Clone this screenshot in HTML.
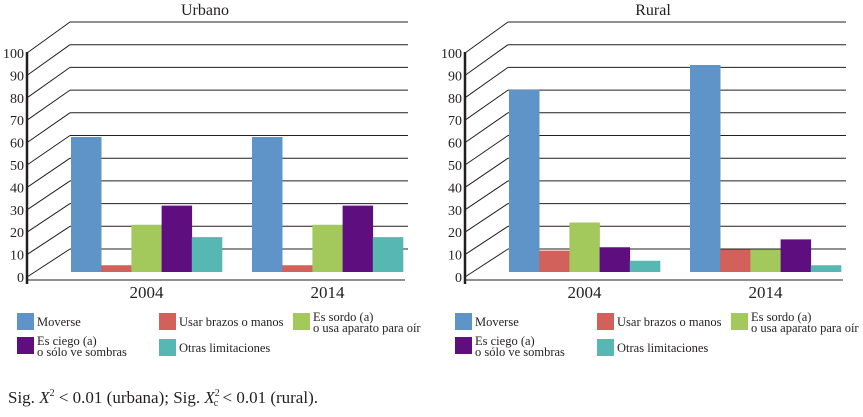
<!DOCTYPE html>
<html><head><meta charset="utf-8"><style>
body{margin:0;background:#fff;width:863px;height:412px;overflow:hidden;font-family:"Liberation Serif",serif;}
svg, svg text{font-family:"Liberation Serif","DejaVu Serif",serif;fill:#231f20;}
</style></head><body>
<svg id="chart" width="863" height="412" font-family="Liberation Serif, serif" xmlns="http://www.w3.org/2000/svg"></svg>
<script>
const categories = ["2004", "2014"];
const seriesNames = ["Moverse", "Usar brazos o manos", "Es sordo (a) o usa aparato para oír", "Es ciego (a) o sólo ve sombras", "Otras limitaciones"];
const urbanValues = [[60, 3, 21, 29.5, 15.5], [60, 3, 21, 29.5, 15.5]];
const ruralValues = [[81, 9.5, 22, 11, 5], [92, 10, 10, 14.5, 3]];
const yTicks = [0, 10, 20, 30, 40, 50, 60, 70, 80, 90, 100];
const colors = ["#5e94c8", "#d2605b", "#a3c95d", "#5e0e7f", "#56b7b3"];

const NS = "http://www.w3.org/2000/svg";
const svg = document.getElementById("chart");
function mk(tag, attrs, parent, text) {
  const e = document.createElementNS(NS, tag);
  for (const k in attrs) e.setAttribute(k, attrs[k]);
  if (tag === "text") e.setAttribute("font-family", "Liberation Serif, serif");
  if (text !== undefined) e.textContent = text;
  (parent || svg).appendChild(e);
  return e;
}

function panel(ox, title, titleX, values, key) {
  const g = mk("g", {});
  
  
  const frontX = ox + 27, backX = ox + 70, backR = ox + 408;
  const yFront = v => 277 - 2.24 * v;
  const yBack = v => 249 - 2.27 * v;
  const yBar = v => 272 - 2.25 * v;
  const t = mk("text", {x: ox + titleX, y: 15, "font-size": 16, "text-anchor": "middle"}, g, title);
  
  
  yTicks.forEach(v => {
    const l = mk("line", {x1: backX, x2: backR, y1: yBack(v), y2: yBack(v), stroke: "#231f20", "stroke-width": 1}, g);
    
    
    mk("line", {x1: frontX, x2: backX, y1: yFront(v), y2: yBack(v), stroke: "#231f20", "stroke-width": 1}, g);
    const tl = mk("text", {x: frontX - 3, y: yFront(v) + 5, "font-size": 14, "text-anchor": "end"}, g, String(v));
    
    
  });
  mk("line", {x1: backX, x2: backR, y1: 22, y2: 22, stroke: "#231f20"}, g);
  const ax = mk("line", {x1: frontX, x2: frontX, y1: 52, y2: 284, stroke: "#231f20", "stroke-width": 2.5}, g);
  
  
  const fl = mk("line", {x1: frontX, x2: backR - 3, y1: 280, y2: 280, stroke: "#231f20", "stroke-width": 1}, g);
  
  
  const groupStart = [ox + 71, ox + 252], bw = 30.2;
  categories.forEach((c, ci) => {
    values[ci].forEach((v, si) => {
      const r = mk("rect", {x: groupStart[ci] + si * bw, y: yBar(v), width: bw + 0.3, height: 272 - yBar(v), fill: colors[si]}, g);
      
      
    });
    const xl = mk("text", {x: groupStart[ci] + 2.5 * bw, y: 298, "font-size": 17, "text-anchor": "middle"}, g, c);
    
    
  });
  const lg = mk("g", {}, g);
  
  
  const items = [
    {sx: 17, sy: 313, lines: ["Moverse"]},
    {sx: 159, sy: 313, lines: ["Usar brazos o manos"]},
    {sx: 293, sy: 313, lines: ["Es sordo (a)", "o usa aparato para oír"]},
    {sx: 17, sy: 337, lines: ["Es ciego (a)", "o sólo ve sombras"]},
    {sx: 159, sy: 339, lines: ["Otras limitaciones"]}
  ];
  items.forEach((it, i) => {
    const e = mk("g", {}, lg);
    
    
    mk("rect", {x: ox + it.sx, y: it.sy, width: 17, height: 17, fill: colors[i]}, e);
    if (it.lines.length === 1) {
      mk("text", {x: ox + it.sx + 20, y: it.sy + 13, "font-size": 12.5}, e, it.lines[0]);
    } else {
      mk("text", {x: ox + it.sx + 20, y: it.sy + 8, "font-size": 12.5}, e, it.lines[0]);
      mk("text", {x: ox + it.sx + 20, y: it.sy + 19, "font-size": 12.5}, e, it.lines[1]);
    }
  });
}
panel(0, "Urbano", 205, urbanValues, "urbano");
panel(438, "Rural", 215, ruralValues, "rural");

const fn = mk("text", {x: 8, y: 403, "font-size": 17});


fn.innerHTML = 'Sig. <tspan font-style="italic">X</tspan><tspan dy="-7" font-size="10">2</tspan><tspan dy="7"> &lt; 0.01 (urbana); Sig. </tspan><tspan font-style="italic">X</tspan><tspan dy="-7" font-size="10">2</tspan><tspan dy="10" dx="-6" font-size="10">c</tspan><tspan dy="-3"> &lt; 0.01 (rural).</tspan>';
</script>
</body></html>
